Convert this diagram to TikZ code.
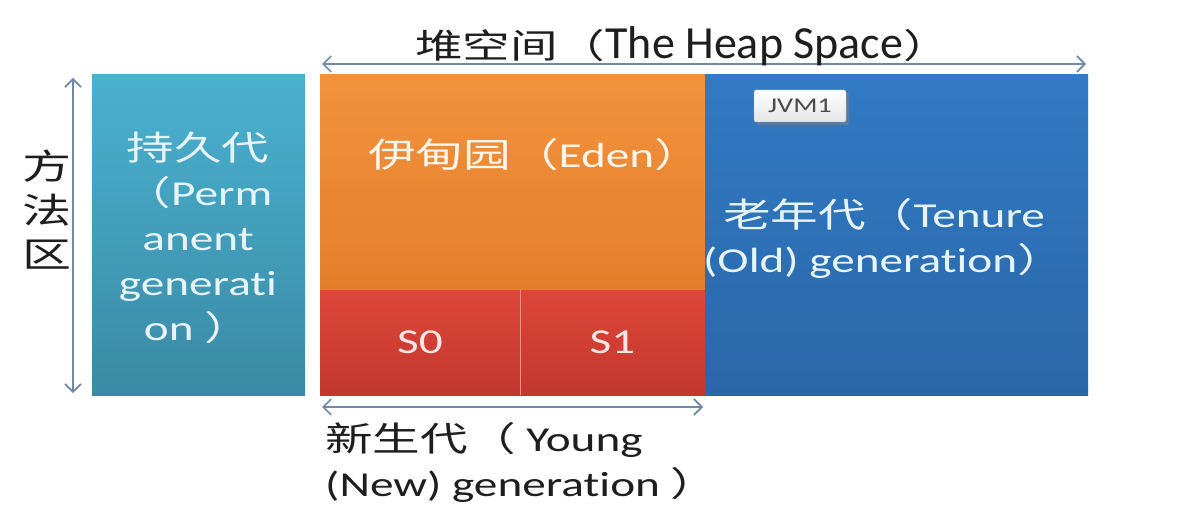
\documentclass[tikz,border=0pt]{standalone}
\usepackage{fontspec}
\setmainfont{Carlito}[Ligatures=NoCommon]
\newfontfamily\wide{Carlito}[FakeStretch=1.35,Ligatures=NoCommon]
\newfontfamily\cjk{Noto Sans CJK SC}[FakeStretch=1.4]
\usetikzlibrary{arrows.meta,shadows}
\definecolor{arrowc}{HTML}{7088AA}
\definecolor{permtop}{HTML}{4AB1D0}
\definecolor{permbot}{HTML}{3A8AA4}
\definecolor{edentop}{HTML}{F2923C}
\definecolor{edenbot}{HTML}{E57E2C}
\definecolor{stop}{HTML}{DE4639}
\definecolor{sbot}{HTML}{C2372E}
\definecolor{oldtop}{HTML}{317AC4}
\definecolor{oldbot}{HTML}{2A67A8}
\definecolor{lighttxt}{HTML}{E6F4F8}
\definecolor{darktxt}{HTML}{1E1E1E}
\newcommand{\zh}[1]{{\cjk\fontsize{34}{45}\selectfont #1}}
\tikzset{
  region/.style={draw=none, inner sep=0pt, rectangle},
  dimarrow/.style={draw=arrowc, line width=1.6pt, {Straight Barb[length=8pt,width=16pt]}-{Straight Barb[length=8pt,width=16pt]}},
  boxtxt/.style={text=lighttxt, font=\wide\fontsize{35}{45}\selectfont, align=center, inner sep=0pt},
  lbl/.style={text=darktxt, font=\wide\fontsize{35}{45}\selectfont, inner sep=0pt},
  tag/.style={draw=gray!60, top color=white, bottom color=gray!20, rounded corners=2pt, inner sep=0pt, minimum width=92pt, minimum height=32pt, font=\wide\fontsize{21}{22}\selectfont, text=darktxt!80, drop shadow={shadow xshift=3pt, shadow yshift=-3pt, opacity=0.5}}
}
\begin{document}
\begin{tikzpicture}[x=1pt,y=-1pt]
\useasboundingbox[fill=white] (0,0) rectangle (1192,516);
% regions
\shade[top color=permtop, bottom color=permbot] (92,75) rectangle (305,395);
\node[region, minimum width=213pt, minimum height=320pt] (perm) at (198.5,235) {};
\shade[top color=edentop, bottom color=edenbot] (320,75) rectangle (705,290);
\node[region, minimum width=385pt, minimum height=215pt] (eden) at (512.5,182.5) {};
\shade[top color=stop, bottom color=sbot] (320,290) rectangle (520,395);
\node[region, minimum width=200pt, minimum height=105pt] (s0) at (420,342.5) {};
\shade[top color=stop, bottom color=sbot] (520,290) rectangle (705,395);
\node[region, minimum width=185pt, minimum height=105pt] (s1) at (612.5,342.5) {};
\draw[color=stop!60!white, line width=0.8pt] (s0.north east) -- (s0.south east);
\shade[top color=oldtop, bottom color=oldbot] (705,75) rectangle (1088,395);
\node[region, minimum width=383pt, minimum height=320pt] (old) at (896.5,235) {};
% texts in boxes
\node[boxtxt] (permtxt) at (198,238) {\zh{持久代}\\\zh{（}Perm\\anent\\generati\\on \zh{）}};
\node[boxtxt, text=white!92!orange] (edentxt) at (535,155) {\zh{伊甸园（}Eden\zh{）}};
\node[boxtxt, text=white!90!red] (s0txt) at (s0) {S0};
\node[boxtxt, text=white!90!red] (s1txt) at (s1) {S1};
\node[boxtxt] (oldtxt) at (884,238) {\zh{老年代（}Tenure\\(Old) generation\zh{）}};
\node[tag] (jvm) at (800,106) {JVM1};
% heap arrow
\coordinate (hl) at (322,64);
\coordinate (hr) at (1086,64);
\draw[dimarrow] (hl) -- (hr);
\node[lbl] (heaptxt) at (683,46) {\zh{堆空间（}{\rmfamily\fontsize{46}{48}\selectfont The Heap Space}\zh{）}};
% method area arrow
\coordinate (mt) at (73,78);
\coordinate (mb) at (73,393);
\draw[dimarrow] (mt) -- (mb);
\node[lbl, align=center, font=\cjk\fontsize{35}{44}\selectfont] (methtxt) at (47,210) {方\\法\\区};
% young arrow
\coordinate (yl) at (322,407);
\coordinate (yr) at (703,407);
\draw[dimarrow] (yl) -- (yr);
\node[lbl, align=left, anchor=north west] (youngtxt) at (325,422) {\zh{新生代（} Young\\(New) generation \zh{）}};
\end{tikzpicture}
\end{document}
